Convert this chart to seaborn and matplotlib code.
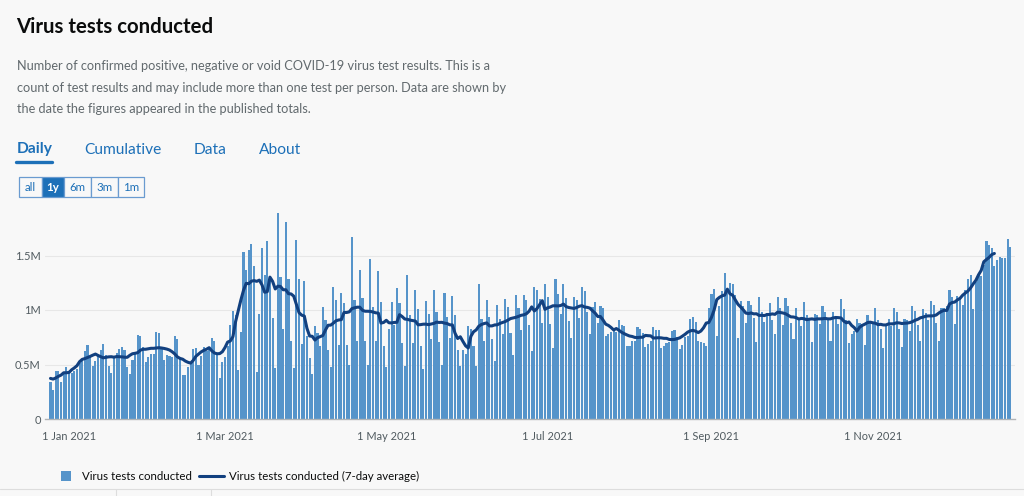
import pandas as pd
import matplotlib
matplotlib.use("Agg")
import matplotlib.pyplot as plt
import matplotlib.dates as mdates
from matplotlib.patches import Rectangle
from matplotlib.lines import Line2D
import seaborn as sns

W, H = 1024, 496
BG = "#f8f8f8"
LINK = "#1d70b8"
BAR = "#5694ca"
LINE = "#12407f"
GREY = "#505a5f"
INK = "#0b0c0c"

# Daily virus tests conducted, millions (25 Dec 2020 -> 23 Dec 2021)
tests_jan_feb = [
    0.34, 0.27, 0.44, 0.44, 0.34, 0.43, 0.48,
    0.42, 0.42, 0.44, 0.46, 0.51, 0.55, 0.62,
    0.68, 0.57, 0.49, 0.53, 0.58, 0.63, 0.69,
    0.59, 0.49, 0.42, 0.56, 0.61, 0.64, 0.66,
    0.63, 0.48, 0.41, 0.54, 0.60, 0.77, 0.76,
    0.66, 0.52, 0.57, 0.60, 0.60, 0.80, 0.79,
    0.66, 0.54, 0.59, 0.58, 0.57, 0.76, 0.73,
    0.55, 0.40, 0.40, 0.48, 0.52, 0.64, 0.65,
    0.50, 0.58, 0.66, 0.62,
]
tests_mar_apr = [
    0.66, 0.74, 0.72, 0.60, 0.38, 0.52, 0.57,
    0.67, 0.86, 0.99, 0.95, 0.45, 0.80, 1.53,
    1.37, 1.55, 1.61, 1.40, 0.43, 0.96, 1.57,
    1.32, 1.63, 1.30, 0.93, 0.47, 1.89, 1.30,
    0.83, 1.81, 1.28, 0.72, 0.47, 1.64, 1.28,
    0.69, 1.27, 0.76, 0.56, 0.41, 0.85, 0.79,
    0.67, 1.03, 0.91, 0.63, 0.48, 1.21, 1.09,
    0.68, 1.16, 1.06, 0.68, 0.50, 1.67, 1.09,
    0.72, 1.37, 1.11, 0.72, 0.50, 1.47, 1.03,
]
tests_may_jun = [
    0.72, 1.36, 1.07, 0.67, 0.48, 0.83, 1.07,
    0.86, 1.20, 1.06, 0.70, 0.49, 1.32, 0.95,
    0.70, 1.18, 1.01, 0.67, 0.46, 1.08, 0.96,
    0.73, 1.18, 0.98, 0.71, 0.50, 1.16, 0.94,
    0.74, 1.13, 0.95, 0.63, 0.49, 0.63, 0.60,
    0.85, 0.83, 0.67, 0.49, 1.24, 0.92, 0.72,
    1.09, 0.94, 0.73, 0.53, 1.05, 0.92, 0.78,
    1.10, 1.03, 0.79, 0.59, 1.14, 1.02, 0.82,
    1.14, 1.09, 0.86, 0.62, 1.21, 1.18,
]
tests_jul_aug = [
    1.10, 0.88, 1.24, 1.12, 0.87, 0.65, 1.28,
    1.15, 0.96, 1.24, 1.11, 0.90, 0.74, 1.12,
    1.09, 0.93, 1.21, 1.17, 0.98, 0.78, 1.03,
    1.07, 0.88, 1.04, 1.02, 0.76, 0.78, 0.80,
    0.81, 0.80, 0.91, 0.86, 0.85, 0.67, 0.67,
    0.72, 0.72, 0.84, 0.83, 0.79, 0.66, 0.69,
    0.72, 0.84, 0.82, 0.82, 0.65, 0.67, 0.70,
    0.71, 0.81, 0.82, 0.75, 0.64, 0.68, 0.75,
    0.76, 0.92, 0.94, 0.89, 0.72, 0.71,
]
tests_sep_oct = [
    0.70, 0.67, 1.02, 1.15, 1.19, 0.76, 1.04,
    1.17, 1.34, 1.16, 1.25, 1.24, 1.14, 0.74,
    1.08, 1.04, 0.88, 1.08, 1.05, 0.93, 0.71,
    1.12, 0.98, 0.89, 0.97, 1.06, 0.91, 0.78,
    1.12, 1.02, 0.86, 1.11, 1.04, 0.88, 0.73,
    1.02, 0.92, 0.85, 1.07, 0.95, 0.92, 0.71,
    0.96, 0.95, 0.87, 1.04, 0.98, 0.92, 0.72,
    0.98, 0.92, 0.87, 1.10, 1.01, 0.91, 0.70,
    0.78, 0.81, 0.92, 0.88, 0.87, 0.68, 0.95,
]
tests_nov_dec = [
    0.90, 0.89, 1.02, 0.91, 0.83, 0.65, 0.86,
    0.92, 0.85, 1.02, 0.98, 0.83, 0.66, 0.92,
    0.91, 0.81, 1.04, 0.99, 0.86, 0.72, 1.01,
    0.97, 0.91, 1.08, 1.05, 0.88, 0.72, 1.02,
    1.02, 1.04, 1.18, 1.12, 0.87, 1.13, 1.12,
    1.05, 1.18, 1.28, 1.32, 1.01, 1.26, 1.32,
    1.31, 1.41, 1.63, 1.60, 1.57, 1.40, 1.46,
    1.49, 1.48, 1.48, 1.65, 1.58,
]
start_date = "2020-12-25"
incomplete_days = 6  # average not shown for the latest days

y_ticks = [0, 0.5, 1, 1.5]
y_labels = ["0", "0.5M", "1M", "1.5M"]
tab_names = ["Daily", "Cumulative", "Data", "About"]
range_names = ["all", "1y", "6m", "3m", "1m"]

tests = (tests_jan_feb + tests_mar_apr + tests_may_jun
         + tests_jul_aug + tests_sep_oct + tests_nov_dec)
df = pd.DataFrame({"date": pd.date_range(start_date, periods=len(tests), freq="D"),
                   "tests": tests})
df["x"] = mdates.date2num(df["date"])
df["avg"] = df["tests"].rolling(7, center=True, min_periods=1).mean()
avg_df = df.iloc[:-incomplete_days]

sns.set_theme(style="white")
plt.rcParams["font.family"] = ["Lato", "DejaVu Sans"]

fig = plt.figure(figsize=(W / 100, H / 100), dpi=100, facecolor=BG)


def fx(x):
    return x / W


def fy(y):
    return 1 - y / H


# --- header ---
fig.text(fx(16.5), fy(33), "Virus tests conducted", fontsize=14.7, fontweight="bold",
         color=INK, va="baseline")
subtitle = [
    "Number of confirmed positive, negative or void COVID-19 virus test results. This is a",
    "count of test results and may include more than one test per person. Data are shown by",
    "the date the figures appeared in the published totals.",
]
for i, line in enumerate(subtitle):
    fig.text(fx(17), fy(70 + i * 21.5), line, fontsize=9.15, color="#626a6e", va="baseline")

tab_x = [17, 84, 194, 259]
for name, x in zip(tab_names, tab_x):
    fig.text(fx(x), fy(153.5), name, fontsize=11.2, color=LINK, va="baseline",
             fontweight="bold" if name == "Daily" else "normal")
fig.add_artist(Line2D([fx(16), fx(52)], [fy(161.5), fy(161.5)], color=LINK, lw=2.4))

# range buttons
edges = [19, 42, 64, 91, 118, 144]
for i, name in enumerate(range_names):
    x0, x1 = edges[i], edges[i + 1]
    active = name == "1y"
    fig.add_artist(Rectangle((fx(x0), fy(197)), fx(x1 - x0), 20 / H,
                             facecolor=LINK if active else BG,
                             edgecolor="#6a9bd0", lw=0.9))
    fig.text(fx((x0 + x1) / 2), fy(187.5), name, fontsize=8.3, ha="center", va="center",
             color="white" if active else LINK,
             fontweight="bold" if active else "normal")

# --- chart ---
ax = fig.add_axes([fx(45), fy(419), (1015 - 45) / W, (419 - 200) / H])
ax.set_facecolor(BG)
sns.barplot(data=df, x="x", y="tests", native_scale=True, orient="x", color=BAR,
            saturation=1, width=0.8, errorbar=None, linewidth=0, ax=ax)
sns.lineplot(data=avg_df, x="x", y="avg", color=LINE, linewidth=2.2, ax=ax)

jan1 = mdates.date2num(pd.Timestamp("2021-01-01"))
px_per_day = 2.644
ax.set_xlim(jan1 - (69 - 45) / px_per_day, jan1 + (1015 - 69) / px_per_day)
ax.set_ylim(0, (419 - 200) / 109)

ax.set_yticks(y_ticks)
ax.set_yticklabels(y_labels)
ax.xaxis.set_major_locator(mdates.MonthLocator(bymonth=[1, 3, 5, 7, 9, 11]))
ax.xaxis.set_major_formatter(
    plt.FuncFormatter(lambda v, p: f"{mdates.num2date(v).day} {mdates.num2date(v):%b %Y}"))
ax.set_xlabel("")
ax.set_ylabel("")
ax.grid(axis="y", color="#e7e7e7", linewidth=0.8)
ax.set_axisbelow(True)
for side in ["top", "right", "left"]:
    ax.spines[side].set_visible(False)
ax.spines["bottom"].set_color("#b1b4b6")
ax.spines["bottom"].set_linewidth(1)
ax.tick_params(axis="y", length=0, pad=3, labelsize=7.9, labelcolor=GREY)
ax.tick_params(axis="x", length=4, width=1, color="#b1b4b6", pad=5,
               labelsize=7.9, labelcolor=GREY)

# --- legend ---
fig.add_artist(Rectangle((fx(60.5), fy(481)), fx(10), 10 / H, facecolor=BAR, lw=0))
fig.text(fx(82), fy(476), "Virus tests conducted", fontsize=8.3, color=INK, va="center")
fig.add_artist(Line2D([fx(199), fx(224)], [fy(476), fy(476)], color=LINE, lw=2.2))
fig.text(fx(229), fy(476), "Virus tests conducted (7-day average)", fontsize=8.3,
         color=INK, va="center")

# footer separators
fig.add_artist(Line2D([0, 1], [fy(488.5), fy(488.5)], color="#dddddd", lw=0.8))
for x in [115.5, 210.5]:
    fig.add_artist(Line2D([fx(x), fx(x)], [fy(488.5), 0], color="#dddddd", lw=0.8))

fig.savefig("out.png", dpi=100, facecolor=BG)
